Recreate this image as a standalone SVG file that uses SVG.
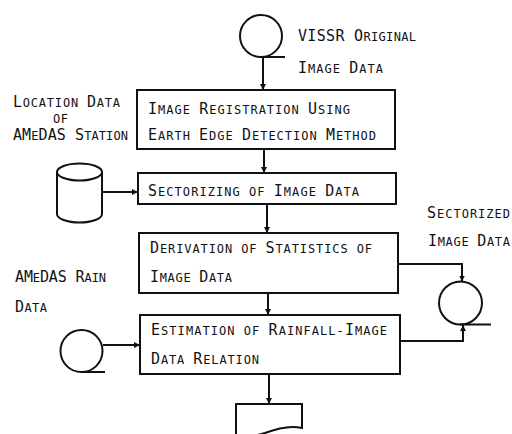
<svg xmlns="http://www.w3.org/2000/svg" width="512" height="434" viewBox="0 0 512 434">
  <style>
    .ln { fill: none; stroke: #111; stroke-width: 2; }
    .shape { fill: #fff; stroke: #111; stroke-width: 2; }
    text { font-family: "DejaVu Sans Mono", "Liberation Mono", monospace; font-size: 12px; fill: #111; }
    .c { font-size: 15px; }
  </style>
  <defs>
    <marker id="arrow" markerUnits="userSpaceOnUse" markerWidth="8" markerHeight="8" refX="6" refY="3" orient="auto">
      <path d="M0,0 L6,3 L0,6 Z" fill="#111"/>
    </marker>
  </defs>

  <rect width="512" height="434" fill="#fff"/>

  <!-- connectors -->
  <g id="connectors">
    <path class="ln" d="M263,57 V90" marker-end="url(#arrow)"/>
    <path class="ln" d="M264,149 V173" marker-end="url(#arrow)"/>
    <path class="ln" d="M102,192 H138" marker-end="url(#arrow)"/>
    <path class="ln" d="M267,204 V233" marker-end="url(#arrow)"/>
    <path class="ln" d="M398,264 H462 V281.5" marker-end="url(#arrow)"/>
    <path class="ln" d="M268,293 V315" marker-end="url(#arrow)"/>
    <path class="ln" d="M400,341 H463 V325" marker-end="url(#arrow)"/>
    <path class="ln" d="M103,345 H140" marker-end="url(#arrow)"/>
    <path class="ln" d="M269,374 V404" marker-end="url(#arrow)"/>
  </g>

  <!-- VISSR original image data (tape) -->
  <g id="vissr-tape">
    <circle class="shape" cx="261" cy="36" r="21"/>
    <path class="ln" d="M261,57 H285"/>
    <text x="298" y="41" textLength="118" lengthAdjust="spacing"><tspan class="c">VISSR O</tspan>RIGINAL</text>
    <text x="298" y="73" textLength="85" lengthAdjust="spacing"><tspan class="c">I</tspan>MAGE <tspan class="c">D</tspan>ATA</text>
  </g>

  <!-- image registration -->
  <g id="registration">
    <rect class="shape" x="137" y="90" width="258" height="59"/>
    <text x="148" y="114" textLength="202" lengthAdjust="spacing"><tspan class="c">I</tspan>MAGE <tspan class="c">R</tspan>EGISTRATION <tspan class="c">U</tspan>SING</text>
    <text x="148" y="140" textLength="228" lengthAdjust="spacing"><tspan class="c">E</tspan>ARTH <tspan class="c">E</tspan>DGE <tspan class="c">D</tspan>ETECTION <tspan class="c">M</tspan>ETHOD</text>
  </g>

  <!-- AMeDAS station location data (disk) -->
  <g id="station-disk">
    <path class="shape" d="M57,172 V214 A22.5,8.5 0 0 0 102,214 V172"/>
    <ellipse class="shape" cx="79.5" cy="172" rx="22.5" ry="8.5"/>
    <text x="13" y="107" textLength="107" lengthAdjust="spacing"><tspan class="c">L</tspan>OCATION <tspan class="c">D</tspan>ATA</text>
    <text x="53" y="123" textLength="15" lengthAdjust="spacing">OF</text>
    <text x="13" y="140" textLength="115" lengthAdjust="spacing"><tspan class="c">AM</tspan>E<tspan class="c">DAS S</tspan>TATION</text>
  </g>

  <!-- sectorizing -->
  <g id="sectorizing">
    <rect class="shape" x="138" y="173" width="258" height="31"/>
    <text x="148" y="196" textLength="211" lengthAdjust="spacing"><tspan class="c">S</tspan>ECTORIZING OF <tspan class="c">I</tspan>MAGE <tspan class="c">D</tspan>ATA</text>
  </g>

  <!-- statistics -->
  <g id="statistics">
    <rect class="shape" x="139" y="233" width="259" height="60"/>
    <text x="150" y="253" textLength="222" lengthAdjust="spacing"><tspan class="c">D</tspan>ERIVATION OF <tspan class="c">S</tspan>TATISTICS OF</text>
    <text x="150" y="282" textLength="82" lengthAdjust="spacing"><tspan class="c">I</tspan>MAGE <tspan class="c">D</tspan>ATA</text>
  </g>

  <!-- sectorized image data (tape) -->
  <g id="sectorized-tape">
    <circle class="shape" cx="460.5" cy="303" r="21.5"/>
    <path class="ln" d="M460,324.5 H491"/>
    <text x="427" y="218" textLength="83" lengthAdjust="spacing"><tspan class="c">S</tspan>ECTORIZED</text>
    <text x="428" y="246" textLength="82" lengthAdjust="spacing"><tspan class="c">I</tspan>MAGE <tspan class="c">D</tspan>ATA</text>
  </g>

  <!-- AMeDAS rain data (tape) -->
  <g id="rain-tape">
    <circle class="shape" cx="81.5" cy="351" r="21"/>
    <path class="ln" d="M81.5,372 H105"/>
    <text x="15" y="282" textLength="91" lengthAdjust="spacing"><tspan class="c">AM</tspan>E<tspan class="c">DAS R</tspan>AIN</text>
    <text x="15" y="312" textLength="32" lengthAdjust="spacing"><tspan class="c">D</tspan>ATA</text>
  </g>

  <!-- estimation -->
  <g id="estimation">
    <rect class="shape" x="140" y="315" width="260" height="59"/>
    <text x="151" y="335" textLength="236" lengthAdjust="spacing"><tspan class="c">E</tspan>STIMATION OF <tspan class="c">R</tspan>AINFALL-<tspan class="c">I</tspan>MAGE</text>
    <text x="151" y="364" textLength="108" lengthAdjust="spacing"><tspan class="c">D</tspan>ATA <tspan class="c">R</tspan>ELATION</text>
  </g>

  <!-- output document -->
  <g id="output-doc">
    <path class="ln" d="M236,440 V404 H302 V428 C290,425 278,428 265,433 C256,436 246,437 236,437"/>
  </g>
</svg>
